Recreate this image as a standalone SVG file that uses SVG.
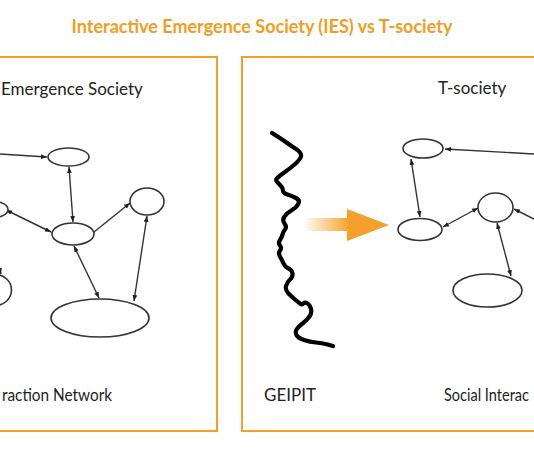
<svg xmlns="http://www.w3.org/2000/svg" width="534" height="462" viewBox="0 0 534 462">
<style>
.box{fill:none;stroke:#f5a02a;stroke-width:2}
.title{font-family:Lato,"Open Sans",sans-serif;font-weight:bold;font-size:18px;fill:#f39c1f}
.lbl{font-family:Lato,"Open Sans",sans-serif;font-size:17px;fill:#222}
.node{fill:#fff;stroke:#333;stroke-width:1.6}
.edge{fill:none;stroke:#333;stroke-width:1.4}
</style>
<defs>
<marker id="ah" viewBox="0 0 10 10" refX="10" refY="5" markerWidth="6" markerHeight="6" orient="auto-start-reverse" markerUnits="userSpaceOnUse">
<path d="M0,1 L10,5 L0,9 z" fill="#222"/>
</marker>
<linearGradient id="og" x1="303" y1="0" x2="350" y2="0" gradientUnits="userSpaceOnUse">
<stop offset="0" stop-color="#f5a02a" stop-opacity="0"/>
<stop offset="1" stop-color="#f5a02a" stop-opacity="1"/>
</linearGradient>
</defs>
<rect width="534" height="462" fill="#fff"/>
<text class="title" x="262" y="33" text-anchor="middle">Interactive Emergence Society (IES) vs T-society</text>

<g id="left-panel">
<rect class="box" x="-10" y="57" width="227" height="374"/>
<text class="lbl" x="1" y="95">Emergence Society</text>
<text class="lbl" x="2" y="401" textLength="110" lengthAdjust="spacingAndGlyphs">raction Network</text>
</g>
<g id="right-panel">
<rect class="box" x="242" y="57" width="300" height="374"/>
<text class="lbl" x="438" y="94">T-society</text>
<text class="lbl" x="264" y="401">GEIPIT</text>
<text class="lbl" x="444" y="401" textLength="85" lengthAdjust="spacingAndGlyphs">Social Interac</text>
</g>

<g id="connectors">
<line class="edge" x1="0" y1="154" x2="47" y2="157" marker-end="url(#ah)"/>
<line class="edge" x1="69" y1="167" x2="73" y2="222" marker-start="url(#ah)" marker-end="url(#ah)"/>
<line class="edge" x1="6" y1="210" x2="51" y2="232" marker-start="url(#ah)" marker-end="url(#ah)"/>
<line class="edge" x1="94" y1="232" x2="130" y2="203" marker-end="url(#ah)"/>
<line class="edge" x1="74" y1="246" x2="99" y2="298" marker-start="url(#ah)" marker-end="url(#ah)"/>
<line class="edge" x1="134" y1="301" x2="147" y2="216" marker-start="url(#ah)" marker-end="url(#ah)"/>
<line class="edge" x1="-4" y1="255" x2="1" y2="274" marker-end="url(#ah)"/>
<line class="edge" x1="534" y1="154" x2="445" y2="149" marker-end="url(#ah)"/>
<line class="edge" x1="411" y1="159" x2="420" y2="217" marker-start="url(#ah)" marker-end="url(#ah)"/>
<line class="edge" x1="443" y1="227" x2="478" y2="208" marker-start="url(#ah)" marker-end="url(#ah)"/>
<line class="edge" x1="534" y1="219" x2="514" y2="209" marker-end="url(#ah)"/>
<line class="edge" x1="497" y1="223" x2="511" y2="276" marker-start="url(#ah)" marker-end="url(#ah)"/>
</g>

<g id="node-a"><ellipse class="node" cx="68.5" cy="157" rx="20.5" ry="9"/></g>
<g id="node-b"><ellipse class="node" cx="73" cy="234" rx="21" ry="11"/></g>
<g id="node-c"><ellipse class="node" cx="147" cy="201.5" rx="17" ry="13.5"/></g>
<g id="node-d"><ellipse class="node" cx="100" cy="318" rx="49" ry="19"/></g>
<g id="node-e"><ellipse class="node" cx="-6" cy="209.5" rx="14" ry="8"/></g>
<g id="node-f"><ellipse class="node" cx="-5" cy="290" rx="16.5" ry="15.5"/></g>

<g id="node-g"><ellipse class="node" cx="423" cy="148.5" rx="20" ry="9.5"/></g>
<g id="node-h"><ellipse class="node" cx="420" cy="229.5" rx="22" ry="11"/></g>
<g id="node-i"><ellipse class="node" cx="495.5" cy="207.5" rx="17.5" ry="14.5"/></g>
<g id="node-j"><ellipse class="node" cx="487.5" cy="290.5" rx="34.5" ry="16.5"/></g>

<g id="geipit-wall">
<path d="M272,133 L276,135.5 Q280,138 285,141.5 Q290,145 296,149 Q302,153 301,156.5 Q300,160 294,165 Q288,170 281.5,174.5 Q275,179 276.5,181 Q278,183 280.5,185.5 Q283,188 283,190.5 Q283,193 287.5,194.5 Q292,196 296,198 Q300,200 298.5,203.5 Q297,207 292,210 Q287,213 284.5,216.5 Q282,220 284.5,223.5 Q287,227 285,229.5 Q283,232 282.5,234.5 Q282,237 280,240 Q278,243 280,245.5 Q282,248 280,250.5 Q278,253 280,256.5 Q282,260 283.5,263.5 Q285,267 288.5,268.5 Q292,270 292.5,273.5 Q293,277 290,279.5 Q287,282 286,286 Q285,290 288.5,293.5 Q292,297 295,299.5 Q298,302 300,303.5 Q302,305 303.5,303.5 Q305,302 307.5,303.5 Q310,305 311,309 Q312,313 309.5,316.5 Q307,320 302.5,323.5 Q298,327 296.5,329.5 Q295,332 296.5,335 Q298,338 304,340 Q310,342 316,342.5 Q322,343 327.5,344.5 L333,346" fill="none" stroke="#000" stroke-width="4.2" stroke-linejoin="round" stroke-linecap="round"/>
</g>
<g id="transition-arrow">
<rect x="303" y="218" width="46" height="13" fill="url(#og)"/>
<path d="M347,209 L389,225 L347,241 z" fill="#f5a02a"/>
</g>
</svg>
